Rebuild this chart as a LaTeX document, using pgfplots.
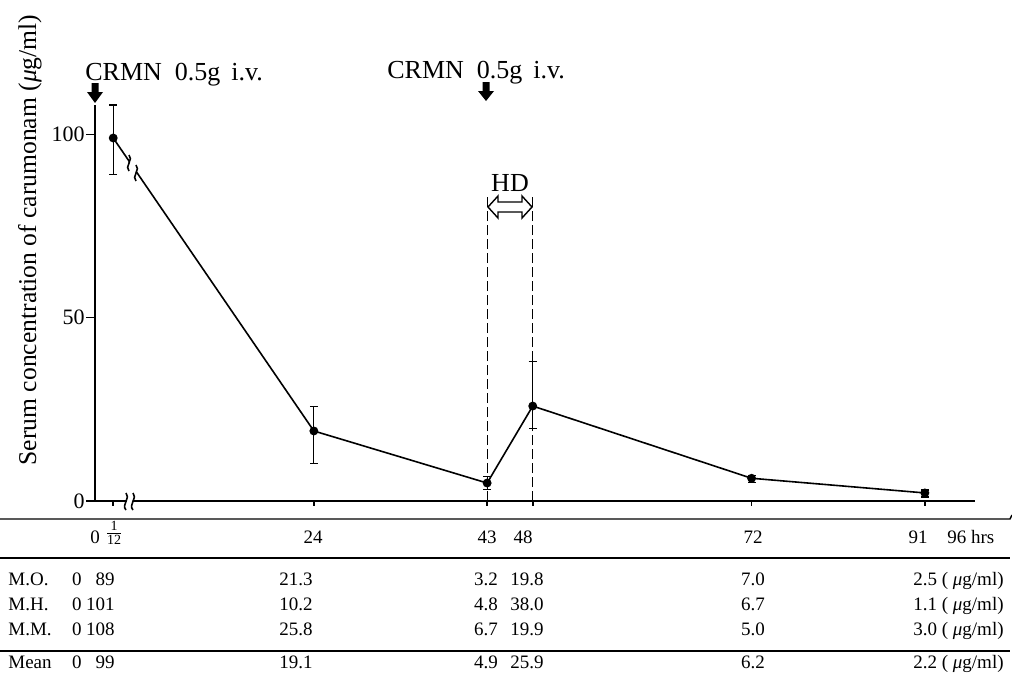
\documentclass[border=0pt]{standalone}
\usepackage{pgfplots}
\pgfplotsset{compat=1.18}
\usepackage{fontspec}
\setmainfont{Liberation Serif}
\newcommand{\mug}{\textit{μ}g/ml}
\begin{document}
\begin{tikzpicture}[x=0.5pt,y=-0.5pt]
\useasboundingbox (0,0) rectangle (1012,680);
\begin{axis}[
  at={(47.5pt,-250.5pt)}, anchor=south west,
  scale only axis, width=440pt, height=198pt,
  xmin=0, xmax=96.5, ymin=0, ymax=108,
  axis lines*=left,
  axis line style={line width=0.8pt, black},
  xtick=\empty,
  ytick={0,50,100},
  tick align=outside, major tick length=4.5pt,
  tick style={line width=0.8pt, black},
  yticklabel style={font=\fontsize{11}{13}\selectfont, inner sep=0.5pt},
  /pgf/number format/assume math mode=true,
  clip=false,
]
% first point (1/12 h) drawn at x=2 because of the axis break
\addplot[black, line width=0.8pt, mark=*, mark size=1.8pt, mark options={fill=black},
  error bars/.cd, y dir=both, y explicit,
  error bar style={line width=0.6pt, black},
  error mark options={rotate=90, mark size=2pt, line width=0.6pt, black}]
  table[x=x, y=y, y error plus=ep, y error minus=em] {
x  y    ep   em
2  99   9    10
24 19.1 6.7  8.9
43 4.9  1.8  1.7
48 25.9 12.1 6.1
72 6.2  0.8  1.2
91 2.2  0.8  1.1
};
\draw[line width=0.6pt, dash pattern=on 5pt off 2pt] (axis cs:43,0) -- (axis cs:43,83.5);
\draw[line width=0.6pt, dash pattern=on 5pt off 2pt] (axis cs:48,0) -- (axis cs:48,83.5);
\pgfplotsinvokeforeach{2,24,43,48,72,91}{\draw[line width=0.8pt] (axis cs:#1,0) -- ++(0,-2.5pt);}
\end{axis}
% axis break marks
\fill[white] (127,496) rectangle (133,506);
\draw[line width=0.8pt] (126,493) .. controls (131,497) and (121,505) .. (126,510);
\draw[line width=0.8pt] (133,493) .. controls (138,497) and (128,505) .. (133,510);
\fill[white] (129.5,158) rectangle (135.5,178);
\draw[line width=0.8pt] (129,155) .. controls (134,159) and (124,167) .. (129,171);
\draw[line width=0.8pt] (136,165) .. controls (141,169) and (131,177) .. (136,181);
% dosing arrows
\fill[black] (91.5,83) -- (98.5,83) -- (98.5,92) -- (103,92) -- (95,103) -- (87,92) -- (91.5,92) -- cycle;
\fill[black] (482.5,82) -- (489.5,82) -- (489.5,91) -- (494,91) -- (486,101) -- (478,91) -- (482.5,91) -- cycle;
\node[anchor=base west, inner sep=0pt, font=\fontsize{13}{15}\selectfont] at (85,80) {CRMN\ \ 0.5g\ \,i.v.};
\node[anchor=base west, inner sep=0pt, font=\fontsize{13}{15}\selectfont] at (387,78) {CRMN\ \ 0.5g\ \,i.v.};
% HD
\draw[line width=0.7pt, fill=white] (488,207) -- (498,196) -- (498,202) -- (522,202) -- (522,196) -- (532,207) -- (522,218) -- (522,212) -- (498,212) -- (498,218) -- cycle;
\node[font=\fontsize{13}{15}\selectfont] at (510,183) {HD};
% y label
\node[rotate=90, anchor=base, inner sep=0pt, font=\fontsize{12.8}{14}\selectfont] at (36,240) {Serum concentration of carumonam (\textit{μ}g/ml)};
% table
\draw[line width=0.7pt] (0,519) -- (1010,519) -- (1012,515);
\draw[line width=0.7pt] (0,558) -- (1010,558);
\draw[line width=0.7pt] (0,651) -- (1010,651);
\begin{scope}[every node/.style={inner sep=0pt, font=\fontsize{9.5}{11}\selectfont}]
\node[anchor=base] at (95,543) {0};
\node at (114,533) {$\frac{\mbox{\scriptsize 1}}{\mbox{\scriptsize 12}}$};
\node[anchor=base] at (313,543) {24};
\node[anchor=base] at (487,543) {43};
\node[anchor=base] at (523,543) {48};
\node[anchor=base] at (753,543) {72};
\node[anchor=base] at (918,543) {91};
\node[anchor=base west] at (947,543) {96\ hrs};
\end{scope}
\begin{scope}[every node/.style={inner sep=0pt, font=\fontsize{9.5}{11}\selectfont}]
\foreach \lab/\yy in {M.O./585, M.H./610, M.M./635, Mean/668}
  \node[anchor=base west] at (8,\yy) {\lab};
\foreach \yy in {585,610,635,668}
  \node[anchor=base] at (77,\yy) {0};
\foreach \v/\yy in {89/585, 101/610, 108/635, 99/668}
  \node[anchor=base east] at (115,\yy) {\v};
\foreach \v/\yy in {21.3/585, 10.2/610, 25.8/635, 19.1/668}
  \node[anchor=base] at (296,\yy) {\v};
\foreach \v/\yy in {3.2/585, 4.8/610, 6.7/635, 4.9/668}
  \node[anchor=base] at (486,\yy) {\v};
\foreach \v/\yy in {19.8/585, 38.0/610, 19.9/635, 25.9/668}
  \node[anchor=base] at (527,\yy) {\v};
\foreach \v/\yy in {7.0/585, 6.7/610, 5.0/635, 6.2/668}
  \node[anchor=base] at (753,\yy) {\v};
\foreach \v/\yy in {2.5/585, 1.1/610, 3.0/635, 2.2/668}
  \node[anchor=base east] at (1004,\yy) {\v\ ( \mug)};
\end{scope}
\end{tikzpicture}
\end{document}
